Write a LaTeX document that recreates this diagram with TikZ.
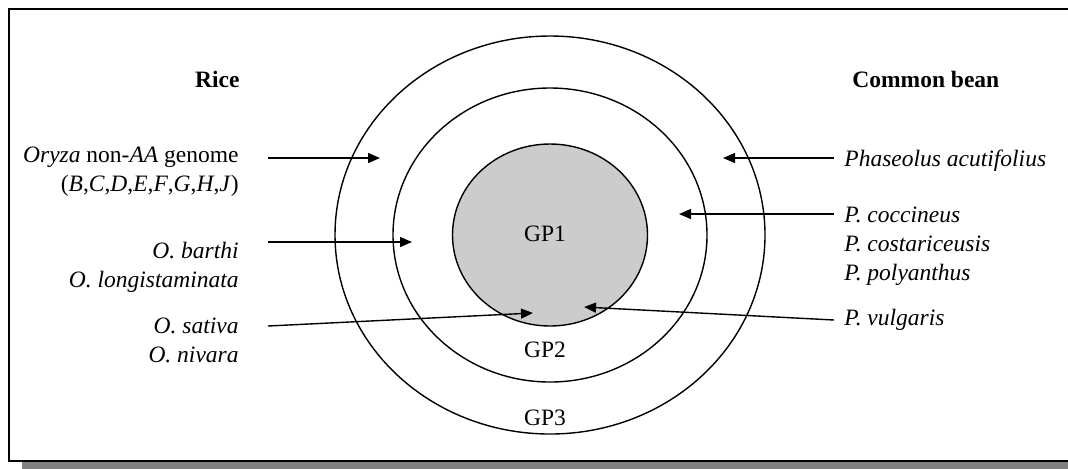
\documentclass[tikz,border=0pt]{standalone}
\usepackage{fontspec}
\setmainfont{Liberation Serif}
\usepackage{tikz}
\usetikzlibrary{shapes.geometric, positioning, arrows.meta}

\begin{document}
\begin{tikzpicture}[
    x=0.5pt, y=-0.5pt,
    font=\fontsize{11.75}{14.5}\selectfont,
    ring/.style={draw, ellipse, line width=0.7pt, inner sep=0pt},
    lbl/.style={inner sep=0pt, align=right},
    rlbl/.style={inner sep=0pt, align=left},
    arrow/.style={-{Triangle[length=6pt, width=5pt]}, line width=0.7pt}
]
    \useasboundingbox (0,0) rectangle (1068,468);

    % --- Frame with shadow ---
    \fill[black!50] (22,22) rectangle (1095,475);
    \draw[line width=1pt, fill=white] (9,9) rectangle (1082,461);

    % --- Gene pools ---
    \node[ring, minimum width=215pt, minimum height=199pt] (gp3) at (550,235) {};
    \node[ring, minimum width=157pt, minimum height=147pt] (gp2) at (550,235) {};
    \node[ring, fill=black!20, minimum width=97.5pt, minimum height=91pt] (gp1) at (550,235) {};
    \node[inner sep=0pt, anchor=base] (gp1lbl) at (545,241) {GP1};
    \node[inner sep=0pt, anchor=base] (gp2lbl) at (545,357) {GP2};
    \node[inner sep=0pt, anchor=base] (gp3lbl) at (545,425) {GP3};

    % --- Rice (Left) ---
    % multi-line labels sit on the baseline of their last line
    \node[lbl, anchor=base east] (rice) at (240,87) {\textbf{Rice}};
    \node[lbl, anchor=base east] (oryza) at (239,191) {\textit{Oryza} non-\textit{AA} genome \\ (\textit{B},\textit{C},\textit{D},\textit{E},\textit{F},\textit{G},\textit{H},\textit{J})};
    \node[lbl, anchor=base east] (barthi) at (239,287) {\textit{O. barthi} \\ \textit{O. longistaminata}};
    \node[lbl, anchor=base east] (sativa) at (239,362) {\textit{O. sativa} \\ \textit{O. nivara}};

    \coordinate (oryzaS) at (268,158);
    \coordinate (oryzaT) at (380,158);
    \coordinate (barthiS) at (268,242);
    \coordinate (barthiT) at (412,242);
    \coordinate (sativaS) at (268,326);
    \coordinate (sativaT) at (533,313);

    \draw[arrow] (oryzaS) -- (oryzaT);
    \draw[arrow] (barthiS) -- (barthiT);
    \draw[arrow] (sativaS) -- (sativaT);

    % --- Common bean (Right) ---
    \node[rlbl, anchor=base west] (bean) at (852,87) {\textbf{Common bean}};
    \node[rlbl, anchor=base west] (acuti) at (844,166) {\textit{Phaseolus acutifolius}};
    \node[rlbl, anchor=base west] (cocc) at (844,280) {\textit{P. coccineus} \\ \textit{P. costariceusis} \\ \textit{P. polyanthus}};
    \node[rlbl, anchor=base west] (vulg) at (844,325) {\textit{P. vulgaris}};

    \coordinate (acutiS) at (834,158);
    \coordinate (acutiT) at (723,158);
    \coordinate (coccS) at (834,214);
    \coordinate (coccT) at (679,214);
    \coordinate (vulgS) at (834,320);
    \coordinate (vulgT) at (584,307);

    \draw[arrow] (acutiS) -- (acutiT);
    \draw[arrow] (coccS) -- (coccT);
    \draw[arrow] (vulgS) -- (vulgT);
\end{tikzpicture}
\end{document}
